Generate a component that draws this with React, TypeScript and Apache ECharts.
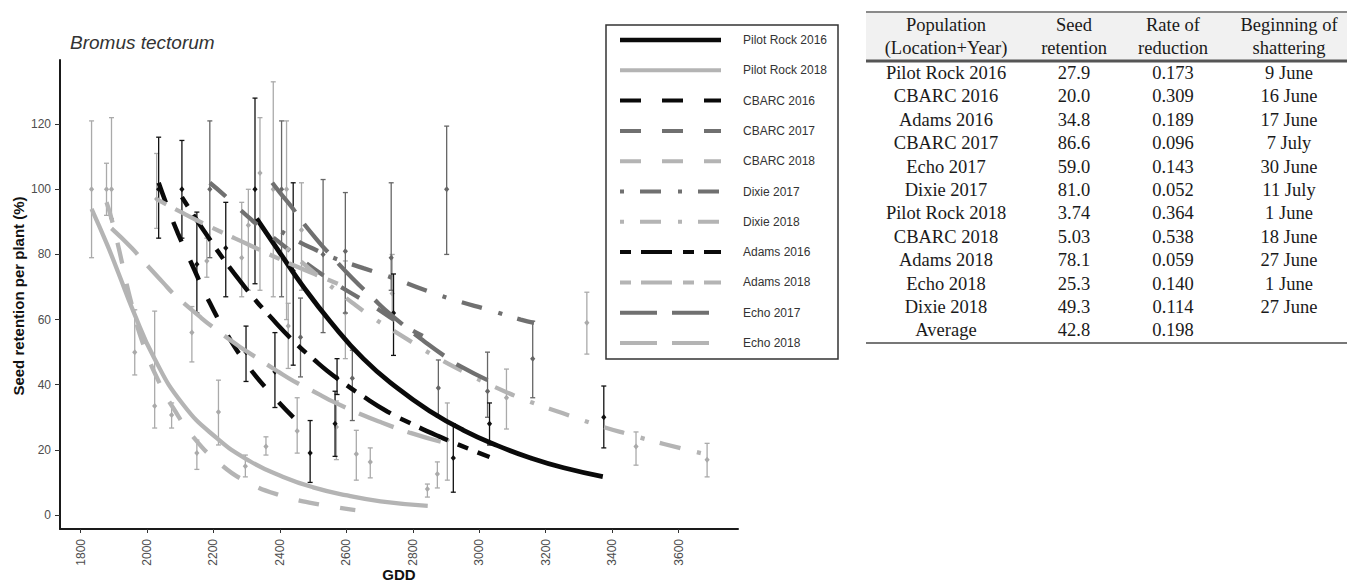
import React, { useEffect, useRef } from "react";
import * as echarts from "echarts";

// ---------- DATA ----------
const xTicks = [1800, 2000, 2200, 2400, 2600, 2800, 3000, 3200, 3400, 3600];
const yTicks = [0, 20, 40, 60, 80, 100, 120];

// fitted curves [GDD, seed retention %]
const pilotRock2016 = [[2330, 91], [2400, 80.5], [2467, 70.6], [2551, 59.5], [2651, 48], [2753, 39], [2853, 31.8], [2953, 26], [3055, 21.3], [3155, 17.5], [3254, 14.5], [3372, 11.8]];
const pilotRock2018 = [[1833, 94], [1880, 83], [1915, 74], [1957, 63], [2020, 48.5], [2108, 34], [2210, 23.6], [2310, 16.5], [2410, 11.7], [2500, 8.5], [2603, 6], [2703, 4.2], [2845, 2.8]];
const cbarc2016 = [[2035, 102], [2060, 95], [2093, 86.5], [2135, 77], [2180, 67], [2235, 56.5], [2295, 47], [2370, 37.6], [2450, 29]];
const cbarc2017 = [[2189, 102], [2235, 98], [2316, 90.5], [2395, 84], [2470, 78], [2542, 72.8], [2600, 69], [2680, 64.2], [2750, 59.5], [2830, 55]];
const cbarc2018 = [[1878, 96], [1893, 91], [1918, 80.5], [1948, 67], [1990, 52], [2047, 38.5], [2078, 33], [2135, 24.5], [2213, 16.3], [2304, 10], [2410, 5.8], [2521, 3.2], [2627, 1.5]];
const dixie2017 = [[2405, 87], [2455, 84], [2510, 81.3], [2560, 79], [2651, 75.8], [2742, 72.7], [2838, 69], [2935, 65.7], [3028, 63], [3125, 60], [3165, 59]];
const dixie2018 = [[2420, 82], [2450, 79], [2520, 73], [2588, 67.5], [2627, 64.5], [2681, 60.5], [2778, 54.3], [2862, 49], [2960, 43.6], [3058, 38.8], [3155, 34.7], [3250, 31.3], [3356, 27.6], [3456, 24.6], [3556, 21.8], [3668, 19]];
const adams2016 = [[2105, 97.6], [2150, 90.5], [2183, 85.5], [2213, 81], [2260, 74.5], [2318, 67], [2370, 61], [2445, 53], [2505, 47.5], [2542, 44.3], [2588, 40.8], [2648, 36.6], [2723, 31.8], [2790, 28.3], [2877, 24.2], [2945, 21.3], [3031, 17.8]];
const adams2018 = [[2029, 97], [2069, 94.8], [2110, 92.6], [2150, 90.5], [2225, 86.8], [2300, 83.3], [2377, 79.6], [2452, 76.2], [2520, 73.3], [2597, 70]];
const echo2017 = [[2377, 102], [2400, 99], [2436, 94.5], [2460, 91], [2520, 83.5], [2551, 80], [2618, 72.7], [2681, 66.5], [2717, 63], [2790, 56.8], [2832, 53.5], [2900, 48.5], [2944, 45.6], [3025, 41.4]];
const echo2018 = [[1893, 88], [1954, 82], [1984, 78.5], [2047, 71.5], [2084, 67.5], [2160, 60.8], [2198, 57.7], [2280, 51.6], [2319, 49], [2395, 44], [2440, 41.2], [2521, 36.9], [2560, 34.8], [2651, 30.6], [2708, 28.3], [2793, 25.2], [2884, 22.5]];

// observed means with error bars [GDD, mean, low, high]
const points2016 = [
  [2035, 100, 85, 116], [2105, 100, 85, 115], [2150, 77, 62, 93], [2237, 82, 67, 96],
  [2298, 50, 41, 58], [2325, 100, 71, 128], [2385, 44, 33, 56], [2440, 75, 46, 102],
  [2491, 19, 10, 29], [2566, 28, 18, 38], [2572, 42, 37, 48], [2742, 62, 49, 74],
  [2922, 17.5, 7, 28], [3031, 28, 21.5, 34.4], [3375, 30, 20.6, 39.6],
];
const points2017 = [
  [2189, 100, 79, 121], [2405, 100, 67, 121], [2462, 54.6, 42.4, 66.6], [2530, 80, 56, 103],
  [2597, 81, 62, 99], [2618, 42, 29, 50.6], [2735, 79, 69, 102], [2877, 39, 30, 47.6],
  [2902, 100, 80, 119.4], [3025, 38, 30, 50], [3161, 48, 36, 59.5],
];
const points2018 = [
  [1833, 100, 79, 121], [1878, 100, 92, 108], [1893, 100, 91, 122], [1963, 50, 43, 63],
  [2023, 33.5, 26.7, 62.6], [2029, 97, 88, 111], [2074, 30.7, 26.7, 34.4], [2135, 56, 47, 64],
  [2150, 19, 14, 23], [2180, 78, 73, 85], [2215, 31.6, 21.5, 41.4], [2285, 79, 67, 96],
  [2296, 15, 11.7, 18.4], [2305, 89, 69, 100], [2340, 105, 69, 122], [2358, 21, 18.4, 24],
  [2380, 100, 67, 133], [2420, 100, 60, 121], [2425, 58, 45, 65], [2452, 25.8, 19, 36],
  [2465, 87.5, 69, 102], [2570, 27, 17, 35], [2597, 62, 48, 78], [2630, 18.7, 10.7, 26],
  [2672, 16.3, 11.4, 20.6], [2738, 68, 62, 80], [2844, 8, 5.5, 9.5], [2874, 12.6, 8.3, 16.3],
  [2904, 23, 10.7, 34.4], [3082, 36, 26.4, 44.8], [3324, 59, 49.4, 68.4], [3472, 21, 15.3, 25.5],
  [3686, 17, 11.7, 22],
];

// table
const tableHeader1 = ["Population", "Seed", "Rate of", "Beginning of"];
const tableHeader2 = ["(Location+Year)", "retention", "reduction", "shattering"];
const tablePopulation = ["Pilot Rock 2016", "CBARC 2016", "Adams 2016", "CBARC 2017", "Echo 2017", "Dixie 2017", "Pilot Rock 2018", "CBARC 2018", "Adams 2018", "Echo 2018", "Dixie 2018", "Average"];
const tableRetention = ["27.9", "20.0", "34.8", "86.6", "59.0", "81.0", "3.74", "5.03", "78.1", "25.3", "49.3", "42.8"];
const tableRate = ["0.173", "0.309", "0.189", "0.096", "0.143", "0.052", "0.364", "0.538", "0.059", "0.140", "0.114", "0.198"];
const tableShattering = ["9 June", "16 June", "17 June", "7 July", "30 June", "11 July", "1 June", "18 June", "27 June", "1 June", "27 June", ""];

// ---------- STYLES ----------
const BLACK = "#0a0a0a";
const DARK = "#707070";
const LIGHT = "#b4b4b4";
const SANS = "Arial, 'Liberation Sans', sans-serif";
const SERIF = "'Times New Roman', 'Liberation Serif', serif";

const curves: { name: string; data: number[][]; color: string; dash: any; width: number }[] = [
  { name: "Pilot Rock 2016", data: pilotRock2016, color: BLACK, dash: "solid", width: 4.8 },
  { name: "Pilot Rock 2018", data: pilotRock2018, color: LIGHT, dash: "solid", width: 4.3 },
  { name: "CBARC 2016", data: cbarc2016, color: BLACK, dash: [21, 21], width: 4.5 },
  { name: "CBARC 2017", data: cbarc2017, color: DARK, dash: [21, 21], width: 4.3 },
  { name: "CBARC 2018", data: cbarc2018, color: LIGHT, dash: [21, 21], width: 4.3 },
  { name: "Dixie 2017", data: dixie2017, color: DARK, dash: [4, 16, 21, 17], width: 4.3 },
  { name: "Dixie 2018", data: dixie2018, color: LIGHT, dash: [4, 16, 21, 17], width: 4.3 },
  { name: "Adams 2016", data: adams2016, color: BLACK, dash: [11, 10, 31, 11], width: 4.5 },
  { name: "Adams 2018", data: adams2018, color: LIGHT, dash: [11, 10, 31, 11], width: 4.3 },
  { name: "Echo 2017", data: echo2017, color: DARK, dash: [37, 15], width: 4.3 },
  { name: "Echo 2018", data: echo2018, color: LIGHT, dash: [37, 15], width: 4.3 },
];

function errorBarSeries(data: number[][], color: string) {
  return {
    type: "custom",
    data,
    z: 1,
    silent: true,
    clip: true,
    encode: { x: 0, y: [1, 2, 3] },
    renderItem: (_params: any, api: any) => {
      const x = api.value(0);
      const pm = api.coord([x, api.value(1)]);
      const pl = api.coord([x, api.value(2)]);
      const ph = api.coord([x, api.value(3)]);
      const cw = 2.5;
      const st = { stroke: color, lineWidth: 1.3 };
      return {
        type: "group",
        children: [
          { type: "line", shape: { x1: pl[0], y1: pl[1], x2: ph[0], y2: ph[1] }, style: st },
          { type: "line", shape: { x1: ph[0] - cw, y1: ph[1], x2: ph[0] + cw, y2: ph[1] }, style: st },
          { type: "line", shape: { x1: pl[0] - cw, y1: pl[1], x2: pl[0] + cw, y2: pl[1] }, style: st },
          {
            type: "polygon",
            shape: { points: [[pm[0], pm[1] - 3], [pm[0] + 2.6, pm[1]], [pm[0], pm[1] + 3], [pm[0] - 2.6, pm[1]]] },
            style: { fill: color },
          },
        ],
      };
    },
  };
}

function buildGraphic() {
  const g: any[] = [];
  g.push({
    type: "text", x: 70, y: 42,
    style: { text: "Bromus tectorum", fontFamily: SANS, fontSize: 19, fontStyle: "italic", fill: "#333", align: "left", verticalAlign: "middle" },
  });
  g.push({
    type: "text", x: 18, y: 296, rotation: Math.PI / 2,
    style: { text: "Seed retention per plant (%)", fontFamily: SANS, fontSize: 15, fontWeight: "bold", fill: "#111", align: "center", verticalAlign: "middle" },
  });
  g.push({
    type: "text", x: 399, y: 574,
    style: { text: "GDD", fontFamily: SANS, fontSize: 15, fontWeight: "bold", fill: "#111", align: "center", verticalAlign: "middle" },
  });
  const lx = 606, ly = 25, lw = 232, lh = 334;
  g.push({ type: "rect", z: 10, shape: { x: lx, y: ly, width: lw, height: lh }, style: { fill: "#fff", stroke: "#333", lineWidth: 1.5 } });
  curves.forEach((c, i) => {
    const y = 40 + 30.3 * i;
    g.push({
      type: "line", z: 11,
      shape: { x1: 620, y1: y, x2: 721, y2: y },
      style: { stroke: c.color, lineWidth: i === 0 ? 4.6 : 4, lineDash: c.dash === "solid" ? null : c.dash, lineCap: "butt" },
    });
    g.push({
      type: "text", z: 11, x: 743, y: y,
      style: { text: c.name, fontFamily: SANS, fontSize: 12, fill: "#333", align: "left", verticalAlign: "middle" },
    });
  });
  const tx = 866, tw = 1347 - 866;
  const colX = [946, 1074, 1173, 1289];
  g.push({ type: "rect", shape: { x: tx, y: 12, width: tw, height: 49 }, style: { fill: "#f1f1f1" } });
  g.push({ type: "line", shape: { x1: tx, y1: 12, x2: 1347, y2: 12 }, style: { stroke: "#8a8a8a", lineWidth: 2 } });
  g.push({ type: "line", shape: { x1: tx, y1: 61, x2: 1347, y2: 61 }, style: { stroke: "#555", lineWidth: 3 } });
  g.push({ type: "line", shape: { x1: tx, y1: 343, x2: 1347, y2: 343 }, style: { stroke: "#777", lineWidth: 2 } });
  const tstyle = (text: string) => ({ text, fontFamily: SERIF, fontSize: 18.5, fill: "#1a1a1a", align: "center", verticalAlign: "middle" });
  tableHeader1.forEach((t, j) => g.push({ type: "text", x: colX[j], y: 25, style: tstyle(t) }));
  tableHeader2.forEach((t, j) => g.push({ type: "text", x: colX[j], y: 48, style: tstyle(t) }));
  tablePopulation.forEach((p, i) => {
    const y = 73 + 23.4 * i;
    const row = [p, tableRetention[i], tableRate[i], tableShattering[i]];
    row.forEach((t, j) => {
      if (t) g.push({ type: "text", x: colX[j], y, style: tstyle(t) });
    });
  });
  return g;
}

export default function App() {
  const ref = useRef<HTMLDivElement>(null);
  useEffect(() => {
    if (!ref.current) return;
    const chart = echarts.init(ref.current, null, { renderer: "svg" });
    const axisLine = { show: true, onZero: false, lineStyle: { color: "#1a1a1a", width: 2 } };
    const option: any = {
      animation: false,
      textStyle: { fontFamily: SANS },
      grid: { left: 60, top: 60, width: 678, height: 469, containLabel: false },
      xAxis: {
        type: "value", min: 1738, max: 3779,
        axisLine,
        axisTick: { show: true, customValues: xTicks, length: 4, lineStyle: { color: "#333", width: 1 } },
        axisLabel: { customValues: xTicks, rotate: 90, margin: 10, fontSize: 12, color: "#4d4d4d", fontFamily: SANS, formatter: (v: number) => String(v) },
        splitLine: { show: false },
      },
      yAxis: {
        type: "value", min: -4.3, max: 139.7,
        axisLine,
        axisTick: { show: true, customValues: yTicks, length: 5, lineStyle: { color: "#333", width: 1 } },
        axisLabel: { customValues: yTicks, margin: 9, fontSize: 12, color: "#4d4d4d", fontFamily: SANS, formatter: (v: number) => String(v) },
        splitLine: { show: false },
      },
      series: [
        errorBarSeries(points2018, "#aaaaaa"),
        errorBarSeries(points2017, "#666666"),
        errorBarSeries(points2016, "#111111"),
        ...curves.map((c) => ({
          type: "line",
          name: c.name,
          data: c.data,
          showSymbol: false,
          symbol: "none",
          smooth: 0.5,
          silent: true,
          z: 3,
          lineStyle: { color: c.color, width: c.width, type: c.dash, cap: "butt" },
        })),
      ],
      graphic: buildGraphic(),
    };
    chart.setOption(option);
    return () => chart.dispose();
  }, []);
  return <div ref={ref} style={{ position: "fixed", left: 0, top: 0, width: 1347, height: 584, background: "#fff" }} />;
}
